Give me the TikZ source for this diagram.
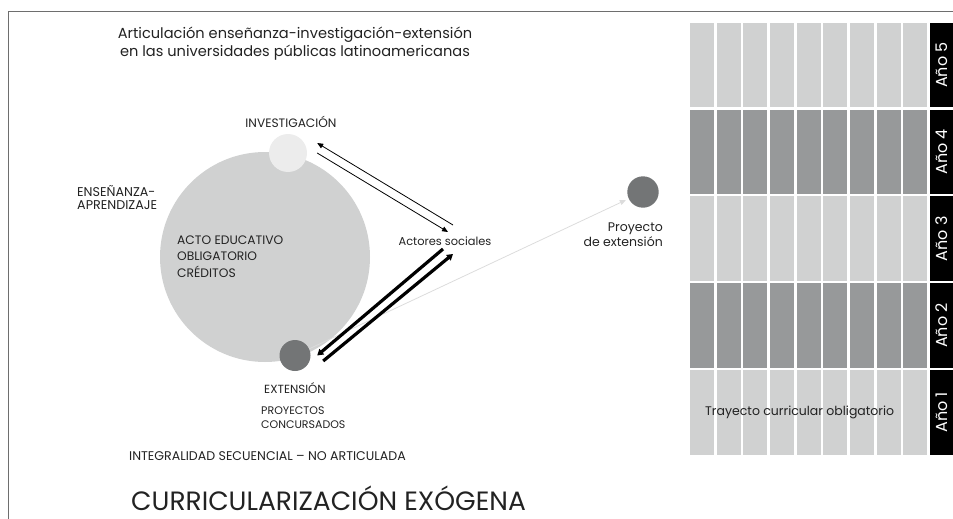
\documentclass[tikz,border=0pt]{standalone}
\usepackage{fontspec}
\setmainfont{Poppins}
\usetikzlibrary{arrows.meta}
\definecolor{lgray}{HTML}{D0D1D1}
\definecolor{dgray}{HTML}{97999A}
\definecolor{cgray}{HTML}{737576}
\definecolor{pgray}{HTML}{ECECEC}
\definecolor{fgray}{HTML}{6E6E6E}
\definecolor{agray}{HTML}{DCDCDC}
\definecolor{tcol}{HTML}{222222}

\begin{document}
\begin{tikzpicture}[x=1pt,y=-1pt,
    txt/.style={inner sep=0pt, text=tcol, font=\fontsize{12.2}{14}\selectfont},
    bola/.style={circle, inner sep=0pt, fill=#1},
    yearbox/.style={fill=black, text=white, inner sep=0pt, rotate=90,
        minimum width=84.5pt, minimum height=23pt, font=\fontsize{16}{18}\selectfont},
    thinarrow/.style={line width=0.8pt, -{Triangle[length=6pt,width=5pt]}},
    thickarrow/.style={line width=3.2pt, -{Triangle[length=6pt,width=7pt]}},
    softarrow/.style={agray, line width=0.8pt, -{Triangle[length=6pt,width=5pt]}, shorten >=3pt}]
    \useasboundingbox (0,0) rectangle (953,519);
    \draw[fgray, line width=1pt] (8,519) -- (8,12) -- (953,12);
    \foreach \r/\col in {1/lgray,2/dgray,3/lgray,4/dgray,5/lgray}{
        \foreach \c in {0,...,8}{
            \fill[\col] ({690+26.67*\c},{370-86.8*(\r-1)}) rectangle +(24,84.5);
        }
        \node[yearbox] (ano\r) at (941.5,{412.25-86.8*(\r-1)}) {Año \r};
    }
    \node[txt, anchor=west, font=\fontsize{12.5}{14}\selectfont] (tray) at (705,412.7) {Trayecto curricular obligatorio};
    \node[txt, align=center, font=\fontsize{14.6}{18}\selectfont] (titulo) at (295,43.5)
        {Articulación enseñanza-investigación-extensión\\en las universidades públicas latinoamericanas};
    \node[bola=lgray, minimum size=210pt] (acto) at (265,257) {};
    \node[bola=pgray, minimum size=38pt] (inv) at (288,153) {};
    \node[bola=cgray, minimum size=31pt] (ext) at (295,355.5) {};
    \node[bola=cgray, minimum size=31.4pt] (proy) at (643,192) {};
    \node[txt] (invlab) at (291,122) {INVESTIGACIÓN};
    \node[txt, anchor=west, align=left, font=\fontsize{12.7}{13.5}\selectfont] (enslab) at (77,197.5)
        {ENSEÑANZA-\\APRENDIZAJE};
    \node[txt, anchor=west, align=left, font=\fontsize{12.3}{16.5}\selectfont] (actolab) at (177,256.5)
        {ACTO EDUCATIVO\\OBLIGATORIO\\CRÉDITOS};
    \node[txt, font=\fontsize{11.4}{13}\selectfont] (soc) at (445,241) {Actores sociales};
    \node[txt, font=\fontsize{11.8}{14}\selectfont] (extlab) at (295,388) {EXTENSIÓN};
    \node[txt, anchor=west, align=left, font=\fontsize{11}{13.5}\selectfont] (proylab) at (261,417.5)
        {PROYECTOS\\CONCURSADOS};
    \node[txt, anchor=west, font=\fontsize{12.6}{14}\selectfont] (integ) at (129,456)
        {INTEGRALIDAD SECUENCIAL – NO ARTICULADA};
    \node[txt, anchor=west, font=\fontsize{26.5}{30}\selectfont] (curr) at (131,498) {CURRICULARIZACIÓN EXÓGENA};
    \node[txt, anchor=east, align=right, font=\fontsize{12.5}{15.5}\selectfont] (proytxt) at (663,234.5)
        {Proyecto\\de extensión};
    \draw[softarrow] (ext) -- (proy);
    \draw[thinarrow] ([shift={(8,-16)}]soc.center) -- ([shift={(10,-10)}]inv.east);
    \draw[thinarrow] ([shift={(10,0)}]inv.east) -- ([shift={(3,-9)}]soc.center);
    \draw[thickarrow] ([shift={(-2,8)}]soc.center) -- ([shift={(6.5,0)}]ext.east);
    \draw[thickarrow] ([shift={(12.5,5.5)}]ext.east) -- ([shift={(8,13)}]soc.center);
\end{tikzpicture}
\end{document}
